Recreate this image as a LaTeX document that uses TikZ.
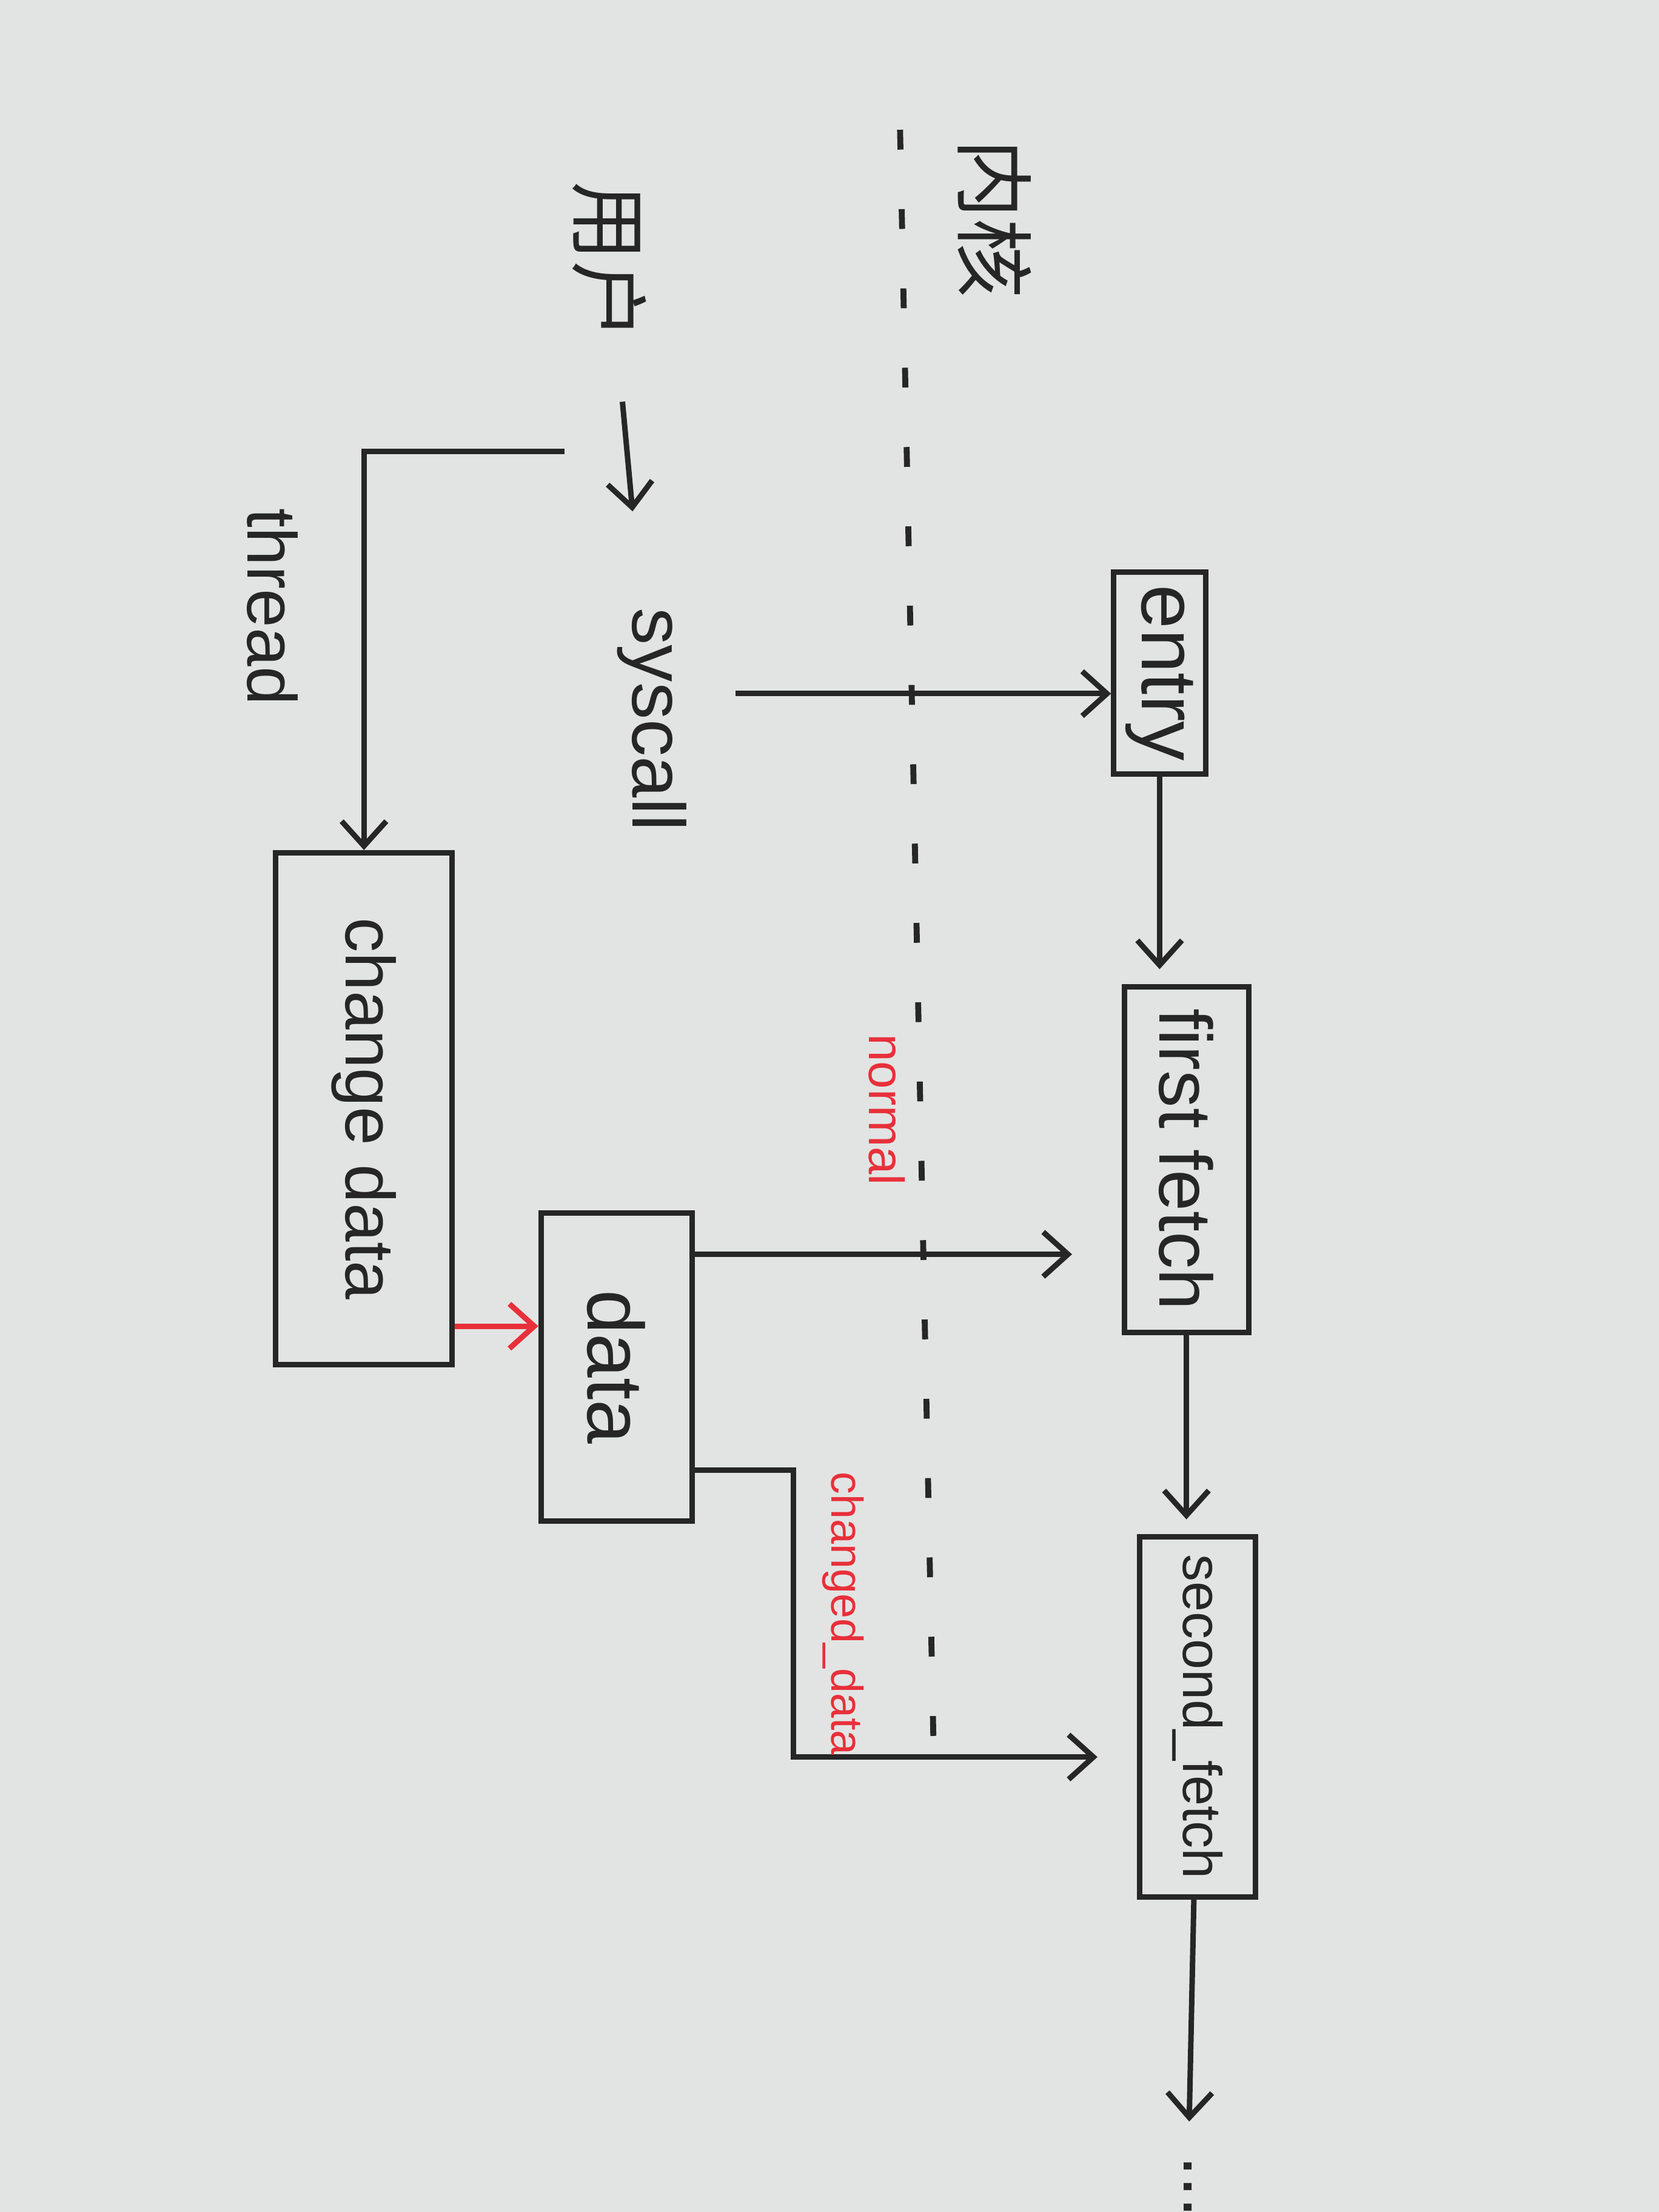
\documentclass[tikz,border=0pt]{standalone}
\usepackage{fontspec}
\setmainfont{Liberation Sans}
\newfontfamily\cjk{Noto Sans CJK SC}
\usetikzlibrary{arrows.meta,calc}
\definecolor{paper}{RGB}{226,228,228}
\definecolor{ink}{RGB}{38,38,38}
\definecolor{redink}{RGB}{232,48,58}

\begin{document}
\begin{tikzpicture}[rotate=-90, transform shape, color=ink, line width=1.1pt,
		>={Straight Barb[length=5pt,width=9pt]},
		lbl/.style={font=\fontsize{15}{18}\selectfont},
		box/.style={draw, inner sep=2pt, font=\fontsize{15}{18}\selectfont},
		note/.style={text=redink, font=\fontsize{10}{12}\selectfont}]
		
		% Papier
		\fill[paper] (0,0) rectangle (15.68,11.76);
		\useasboundingbox (0,0) rectangle (15.68,11.76);
		
		% Grenze Kern / Nutzer
		\draw[line width=1.2pt, dash pattern=on 4pt off 12pt] (0.92,6.38) -- (12.5,6.62);
		
		% Beschriftungen
		\node[font=\cjk\fontsize{16}{18}\selectfont] (kern) at (1.55,7.05) {内核};
		\node[font=\cjk\fontsize{16}{18}\selectfont] (user) at (1.85,4.32) {用户};
		\node[lbl] (syscall) at (5.10,4.62) {syscall};
		\node[lbl, font=\fontsize{14}{16}\selectfont] (thread) at (4.30,1.93) {thread};
		
		% Kaesten
		\node[box, minimum width=1.43cm, minimum height=0.65cm, font=\fontsize{16}{18}\selectfont] (entry) at (4.77,8.22) {entry};
		\node[box, minimum width=2.45cm, minimum height=0.88cm] (first) at (8.22,8.41) {first fetch};
		\node[box, minimum width=2.55cm, minimum height=0.82cm, font=\fontsize{11}{13}\selectfont] (second) at (12.17,8.49) {second\_fetch};
		\node[box, minimum width=2.18cm, minimum height=1.07cm, font=\fontsize{16}{18}\selectfont] (data) at (9.69,4.37) {data};
		\node[box, minimum width=3.63cm, minimum height=1.25cm, font=\fontsize{14}{16}\selectfont] (change) at (7.86,2.58) {change data};
		\node[lbl] (dots) at (15.5,8.42) {...};
		
		% Ablauf
		\draw[->, shorten <=0.3cm, shorten >=0.55cm] (user) -- (syscall);
		\coordinate (en) at ($(entry.south west)!0.6!(entry.south east)$);
		\draw[->, shorten <=6pt] (syscall.north -| en) -- (en);
		\draw[->, shorten >=3pt] (entry.east) -- (entry.east -| first.west);
		\draw[->, shorten >=3pt] (first.east) -- (first.east -| second.west);
		\draw[->, shorten >=3pt] (second) -- (dots);
		
		% Thread
		\coordinate (tstart) at (3.2,4.0);
		\draw[->] (tstart) |- (change.west);
		\coordinate (cn) at ($(change.north east)!0.08!(change.north west)$);
		\draw[->, redink] (cn) -- (cn |- data.south);
		
		% Daten in den Kern
		\coordinate (dn) at ($(data.north west)!0.14!(data.north east)$);
		\draw[->, shorten >=10pt] (dn) -- (dn |- first.south) node[pos=0.45, left=10pt, note] {normal};
		\coordinate (dc) at ($(data.north west)!0.83!(data.north east)$);
		\coordinate (sc) at ($(second.south west)!0.61!(second.south east)$);
		\draw[->, shorten >=8pt] (dc) -- ++(0,0.7) coordinate (bend) -- (bend -| sc) node[midway, above=2pt, note, font=\fontsize{9}{11}\selectfont] {changed\_data} -- (sc);
		
	\end{tikzpicture}
\end{document}
